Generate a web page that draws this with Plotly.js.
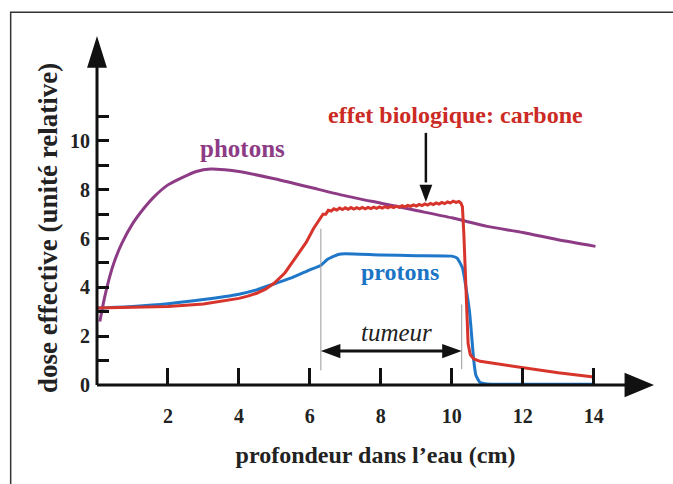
<!DOCTYPE html>
<html>
<head>
<meta charset="utf-8">
<script src="https://cdn.plot.ly/plotly-3.0.1.min.js"></script>
<style>
html,body{margin:0;padding:0;background:#fff;}
#chart{width:673px;height:484px;}
</style>
</head>
<body>
<div id="chart"></div>
<script>
// ---- data ----
const photonsX = [0.08,0.2,0.35,0.5,0.7,1.0,1.3,1.6,2.0,2.4,2.8,3.2,3.6,4.0,5.0,6.0,7.0,8.0,9.0,10.0,11.0,12.0,13.0,14.05];
const photonsY = [2.6,3.5,4.4,5.1,5.8,6.6,7.2,7.7,8.2,8.5,8.75,8.85,8.82,8.75,8.45,8.1,7.75,7.45,7.15,6.85,6.5,6.25,5.95,5.68];

const carboneX = [0,1,2,3,3.5,4,4.25,4.5,4.75,5,5.3,5.6,5.9,6.1,6.25,6.37,
  6.45,6.52,6.6,6.68,6.76,6.84,6.92,7.0,7.08,7.16,7.24,7.32,7.4,7.48,7.56,7.64,7.72,7.8,7.88,7.96,
  8.04,8.12,8.2,8.28,8.36,8.44,8.52,8.6,8.68,8.76,8.84,8.92,9.0,9.08,9.16,9.24,9.32,9.4,9.48,9.56,
  9.64,9.72,9.8,9.88,9.96,10.04,10.12,10.2,10.26,
  10.3,10.34,10.38,10.42,10.46,10.52,10.62,10.8,11.2,12,13,14];
const carboneY = [3.15,3.17,3.22,3.32,3.42,3.55,3.64,3.76,3.93,4.18,4.6,5.2,5.85,6.4,6.75,7.0,
  7.0,7.16,7.13,7.22,7.17,7.25,7.19,7.26,7.2,7.27,7.21,7.27,7.22,7.28,7.22,7.28,7.23,7.29,7.24,7.3,
  7.25,7.31,7.26,7.32,7.27,7.33,7.28,7.35,7.3,7.36,7.32,7.38,7.33,7.4,7.35,7.42,7.37,7.44,7.39,7.46,
  7.41,7.48,7.43,7.5,7.46,7.53,7.48,7.52,7.45,
  7.3,6.2,4.5,2.8,1.7,1.25,1.07,0.97,0.88,0.7,0.5,0.33];

const protonsX = [0,1,2,3,4,4.5,5,5.5,6,6.3,6.5,6.8,7,8,9,10,10.15,10.3,10.4,10.5,10.55,10.62,10.68,10.8,11,12,13,14];
const protonsY = [3.15,3.22,3.33,3.5,3.72,3.9,4.15,4.4,4.72,4.9,5.15,5.35,5.38,5.33,5.3,5.28,5.2,4.8,4.0,3.0,2.2,1.0,0.4,0.1,0.04,0.03,0.03,0.03];

const xTicks = [2,4,6,8,10,12,14];
const yTickVals = [0,1,2,3,4,5,6,7,8,9,10,11];
const yTickText = ['0','','2','','4','','6','','8','','10',''];

const xTitle = 'profondeur dans l’eau (cm)';
const yTitle = 'dose effective (unité relative)';

const tumeurStart = 6.31, tumeurEnd = 10.28;

// ---- styles ----
const XMAX = 15.7, YMAX = 14.3;
const px = v => v / XMAX;   // data x -> paper x (axis range starts at 0)
const py = v => v / YMAX;   // data y -> paper y
const serif = 'Liberation Serif, Times New Roman, serif';
const cPhot = '#8e3b86', cCarb = '#d7342b', cProt = '#1f77c9';

const traces = [
  {x: photonsX, y: photonsY, mode:'lines', line:{color:cPhot, width:3, shape:'spline', smoothing:0.6}, hoverinfo:'skip', cliponaxis:false},
  {x: protonsX, y: protonsY, mode:'lines', line:{color:cProt, width:3, shape:'spline', smoothing:0.5}, hoverinfo:'skip', cliponaxis:false},
  {x: carboneX, y: carboneY, mode:'lines', line:{color:cCarb, width:3}, hoverinfo:'skip', cliponaxis:false}
];

const P = {xref:'paper', yref:'paper'};
const tri = (pts) => 'M ' + pts.map(p => px(p[0]) + ' ' + py(p[1])).join(' L ') + ' Z';

const shapes = [
  // frame
  Object.assign({type:'rect', x0:-0.155, x1:1.1, y0:-0.4, y1:1.068, line:{color:'#333', width:1.5}, layer:'below'}, P),
  // axis lines
  Object.assign({type:'line', x0:0, x1:px(15.0), y0:0, y1:0, line:{color:'#111', width:3}}, P),
  Object.assign({type:'line', x0:0, x1:0, y0:0, y1:py(13.1), line:{color:'#111', width:3}}, P),
  // axis arrowheads
  Object.assign({type:'path', path:tri([[14.87,-0.5],[15.7,0],[14.87,0.5]]), fillcolor:'#111', line:{width:0}}, P),
  Object.assign({type:'path', path:tri([[-0.28,13.0],[0,14.3],[0.28,13.0]]), fillcolor:'#111', line:{width:0}}, P),
  // thin gray tumour bounds
  Object.assign({type:'line', x0:px(tumeurStart), x1:px(tumeurStart), y0:py(0.6), y1:py(6.4), line:{color:'#999', width:1}}, P),
  Object.assign({type:'line', x0:px(tumeurEnd), x1:px(tumeurEnd), y0:py(0.65), y1:py(3.3), line:{color:'#999', width:1}}, P),
  // tumeur double arrow
  Object.assign({type:'line', x0:px(tumeurStart+0.4), x1:px(tumeurEnd-0.4), y0:py(1.39), y1:py(1.39), line:{color:'#111', width:3}}, P),
  Object.assign({type:'path', path:tri([[tumeurStart,1.39],[tumeurStart+0.55,1.68],[tumeurStart+0.55,1.10]]), fillcolor:'#111', line:{width:0}}, P),
  Object.assign({type:'path', path:tri([[tumeurEnd,1.39],[tumeurEnd-0.55,1.68],[tumeurEnd-0.55,1.10]]), fillcolor:'#111', line:{width:0}}, P),
  // down arrow to carbon curve
  Object.assign({type:'line', x0:px(9.27), x1:px(9.27), y0:py(10.33), y1:py(8.3), line:{color:'#111', width:2.5}}, P),
  Object.assign({type:'path', path:tri([[9.09,8.2],[9.27,7.5],[9.45,8.2]]), fillcolor:'#111', line:{width:0}}, P)
];

const annotations = [
  {x:4.1, y:9.7, text:'photons', showarrow:false, font:{family:serif, size:25, color:cPhot, weight:'bold'}},
  {x:10.11, y:11.07, text:'effet biologique: carbone', showarrow:false, font:{family:serif, size:24, color:'#cc2a24', weight:'bold'}},
  {x:8.54, y:4.63, text:'protons', showarrow:false, font:{family:serif, size:24, color:'#1b74c4', weight:'bold'}},
  {x:8.45, y:2.17, text:'<i>tumeur</i>', showarrow:false, font:{family:serif, size:25, color:'#222'}},
  // y-axis title (placed as rotated annotation to match the reference's vertical offset)
  {xref:'paper', yref:'paper', x:-0.088, y:0.45, xanchor:'center', yanchor:'middle', textangle:-90,
   text:yTitle, showarrow:false, font:{family:serif, size:27, color:'#222', weight:'bold'}}
];

const layout = {
  width:673, height:484,
  margin:{l:97, r:19, t:36, b:99},
  paper_bgcolor:'#fff', plot_bgcolor:'#fff',
  showlegend:false,
  xaxis:{
    range:[0,XMAX], autorange:false, showgrid:false, zeroline:false, showline:false,
    tickvals:xTicks, ticks:'inside', ticklen:17, tickwidth:3, tickcolor:'#111',
    ticklabelstandoff:17,
    tickfont:{family:serif, size:20, color:'#222', weight:'bold'},
    automargin:false, fixedrange:true,
    title:{text:xTitle, font:{family:serif, size:24, color:'#222', weight:'bold'}, standoff:20}
  },
  yaxis:{
    range:[0,YMAX], autorange:false, showgrid:false, zeroline:false, showline:false,
    tickvals:yTickVals, ticktext:yTickText, ticks:'inside', ticklen:12, tickwidth:3, tickcolor:'#111',
    ticklabelstandoff:6,
    tickfont:{family:serif, size:20, color:'#222', weight:'bold'},
    automargin:false, fixedrange:true,
    title:{text:''}
  },
  shapes:shapes,
  annotations:annotations
};

Plotly.newPlot('chart', traces, layout, {displayModeBar:false, staticPlot:true});
</script>
</body>
</html>
